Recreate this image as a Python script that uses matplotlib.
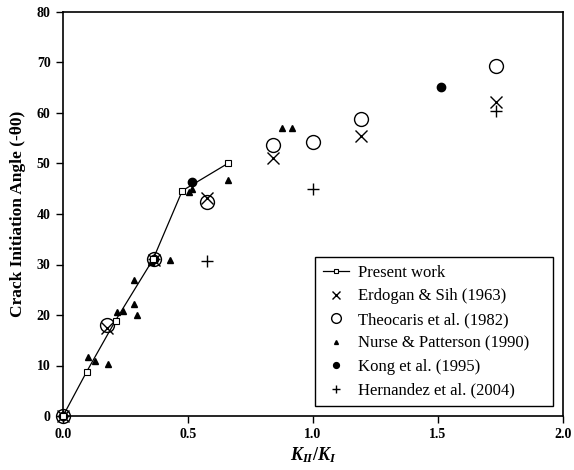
import matplotlib
matplotlib.use("Agg")
import matplotlib.pyplot as plt

plt.rcParams['font.family'] = ['Liberation Serif', 'DejaVu Serif']
plt.rcParams['mathtext.fontset'] = 'custom'
plt.rcParams['mathtext.it'] = 'Liberation Serif:italic:bold'
plt.rcParams['mathtext.rm'] = 'Liberation Serif:bold'

# Data
present_x = [0, 0.095, 0.21, 0.36, 0.477, 0.659]
present_y = [0, 8.8, 18.9, 31.0, 44.6, 50.0]

erdogan_x = [0, 0.176, 0.364, 0.577, 0.839, 1.19, 1.732]
erdogan_y = [0, 17.4, 30.9, 43.1, 51.0, 55.4, 62.2]

theocaris_x = [0, 0.176, 0.364, 0.577, 0.839, 1.0, 1.19, 1.732]
theocaris_y = [0, 18.0, 31.0, 42.4, 53.6, 54.3, 58.8, 69.4]

nurse_x = [0, 0.099, 0.128, 0.181, 0.215, 0.241, 0.284, 0.284, 0.295, 0.35,
           0.428, 0.505, 0.515, 0.661, 0.875, 0.915]
nurse_y = [0, 11.7, 10.9, 10.2, 20.5, 20.8, 26.9, 22.1, 20.0, 30.5,
           30.9, 44.4, 45.0, 46.7, 57.0, 57.0]

kong_x = [0, 0.364, 0.517, 1.51]
kong_y = [0, 31.0, 46.4, 65.2]

hernandez_x = [0, 0.364, 0.577, 1.0, 1.732]
hernandez_y = [0, 31.0, 30.7, 45.0, 60.3]

labels = ['Present work', 'Erdogan & Sih (1963)', 'Theocaris et al. (1982)',
          'Nurse & Patterson (1990)', 'Kong et al. (1995)', 'Hernandez et al. (2004)']

xticks = [0.0, 0.5, 1.0, 1.5, 2.0]
yticks = [0, 10, 20, 30, 40, 50, 60, 70, 80]

fig = plt.figure(figsize=(5.74, 4.70), dpi=100)
ax = fig.add_axes([63/574, 1-416/470, 500/574, 404/470])

ax.plot(present_x, present_y, color='black', lw=0.9, marker='s', ms=4.5,
        mfc='white', mec='black', mew=0.8, label=labels[0], clip_on=False, zorder=5)
ax.plot(erdogan_x, erdogan_y, ls='none', marker='x', ms=9, mec='black', mew=1.0,
        label=labels[1], clip_on=False, zorder=4)
ax.plot(theocaris_x, theocaris_y, ls='none', marker='o', ms=10, mfc='none', mec='black',
        mew=1.0, label=labels[2], clip_on=False, zorder=3)
ax.plot(nurse_x, nurse_y, ls='none', marker='^', ms=4, mfc='black', mec='black',
        label=labels[3], clip_on=False, zorder=4)
ax.plot(kong_x, kong_y, ls='none', marker='o', ms=6, mfc='black', mec='black',
        label=labels[4], clip_on=False, zorder=4)
ax.plot(hernandez_x, hernandez_y, ls='none', marker='+', ms=9, mec='black', mew=1.0,
        label=labels[5], clip_on=False, zorder=4)

ax.set_xlim(0, 2.0)
ax.set_ylim(0, 80)
ax.set_xticks(xticks)
ax.set_xticklabels([f'{v:.1f}' for v in xticks])
ax.set_yticks(yticks)
ax.set_yticklabels([str(v) for v in yticks])
for lab in ax.get_xticklabels() + ax.get_yticklabels():
    lab.set_fontweight('bold')
    lab.set_fontsize(10)
ax.tick_params(direction='out', length=5, width=1, top=False, right=False, pad=4)
for s in ax.spines.values():
    s.set_linewidth(1.2)

ax.set_xlabel(r'$K_{II}/K_{I}$', fontsize=13, labelpad=3)
ax.set_ylabel('Crack Initiation Angle (-θ0)', fontsize=12.5, fontweight='bold', labelpad=8)

leg = ax.legend(loc='lower left', bbox_to_anchor=(0.504, 0.0248, 0.476, 0.38),
                mode='expand', borderaxespad=0, fontsize=12,
                frameon=True, fancybox=False, edgecolor='black', framealpha=1,
                handlelength=1.6, handletextpad=0.5, labelspacing=0.45,
                borderpad=0.45, markerscale=0.7)
leg.get_frame().set_linewidth(1.0)

fig.savefig('out.png', dpi=100)
